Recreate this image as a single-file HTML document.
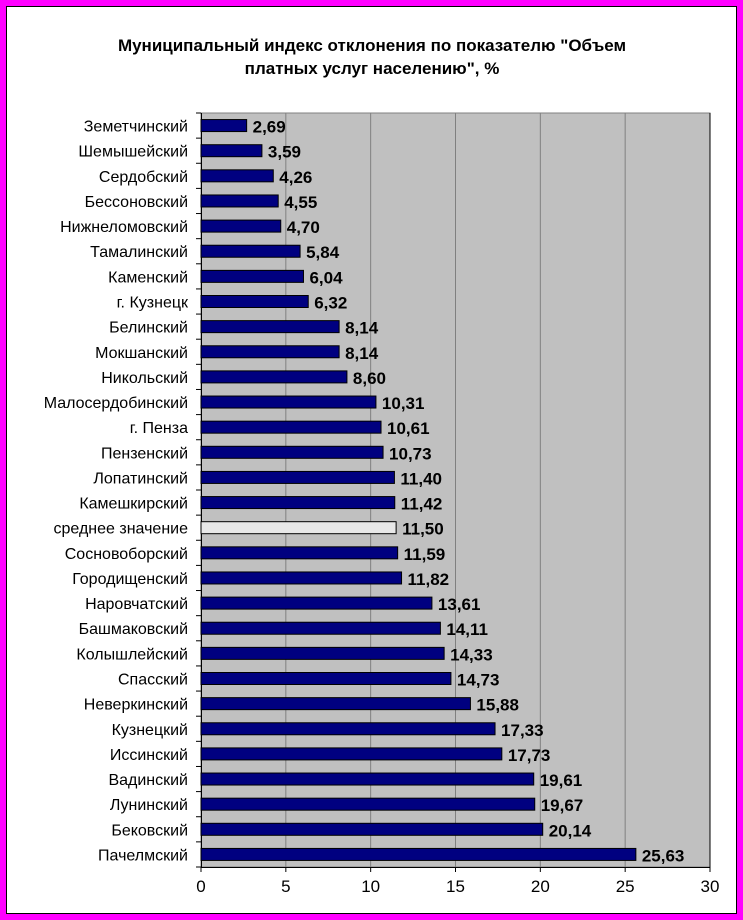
<!DOCTYPE html>
<html><head><meta charset="utf-8"><style>
html,body{margin:0;padding:0;background:#fff}
svg{display:block}
text{font-family:"Liberation Sans",Arial,sans-serif}
</style></head><body>
<svg id="chart" width="743" height="920">
<rect x="3" y="3" width="737" height="914" fill="#fff" stroke="#ff00ff" stroke-width="6"/>
<rect x="6.5" y="6.5" width="730" height="907" fill="none" stroke="#000" stroke-width="1"/>
<text x="372" y="51" text-anchor="middle" font-size="17" font-weight="bold">Муниципальный индекс отклонения по показателю "Объем</text>
<text x="372" y="74" text-anchor="middle" font-size="17" font-weight="bold">платных услуг населению", %</text>
<g id="plot"></g>
</svg>
<script>
const categories=["Земетчинский","Шемышейский","Сердобский","Бессоновский","Нижнеломовский","Тамалинский","Каменский","г. Кузнецк","Белинский","Мокшанский","Никольский","Малосердобинский","г. Пенза","Пензенский","Лопатинский","Камешкирский","среднее значение","Сосновоборский","Городищенский","Наровчатский","Башмаковский","Колышлейский","Спасский","Неверкинский","Кузнецкий","Иссинский","Вадинский","Лунинский","Бековский","Пачелмский"];
const values=[2.69,3.59,4.26,4.55,4.70,5.84,6.04,6.32,8.14,8.14,8.60,10.31,10.61,10.73,11.40,11.42,11.50,11.59,11.82,13.61,14.11,14.33,14.73,15.88,17.33,17.73,19.61,19.67,20.14,25.63];
const ticks=[0,5,10,15,20,25,30];
const L=201,R=710,T=113,B=867,xMax=30;
const x=v=>L+v/xMax*(R-L);
const band=(B-T)/categories.length;
const y=i=>T+i*band;
const NS="http://www.w3.org/2000/svg";
const g=document.getElementById('plot');
function mk(t,a){const e=document.createElementNS(NS,t);for(const k in a)e.setAttribute(k,a[k]);g.appendChild(e);return e;}
const bg=mk('rect',{x:L,y:T,width:R-L,height:B-T,fill:'#c0c0c0',stroke:'#808080'});


ticks.forEach(t=>{
 if(t>0){const gl=mk('line',{x1:x(t),x2:x(t),y1:T,y2:B,stroke:'#808080'});
 
 }
 mk('line',{x1:x(t),x2:x(t),y1:B,y2:B+5,stroke:'#000'});
 const tl=mk('text',{x:x(t),y:B+25,'text-anchor':'middle','font-size':17});
 tl.textContent=t;
 
 
});
mk('line',{x1:L,x2:R,y1:B+.5,y2:B+.5,stroke:'#000'});
mk('line',{x1:L+.5,x2:L+.5,y1:T,y2:B,stroke:'#000'});
mk('line',{x1:R,x2:R,y1:T,y2:B,stroke:'#000'});
categories.forEach((c,i)=>{
 mk('line',{x1:L-5,x2:L,y1:y(i),y2:y(i),stroke:'#000'});
 const cy=y(i)+band/2;
 const v=values[i];
 const isMean=c==="среднее значение";
 const bar=mk('rect',{x:L,y:cy-6,width:x(v)-L,height:12,fill:isMean?'#e8e8e8':'#000080',stroke:'#000','stroke-width':1});
 
 
 const lb=mk('text',{x:188,y:cy+6,'text-anchor':'end','font-size':16});
 lb.textContent=c;
 
 
 const vl=mk('text',{x:x(v)+6,y:cy+7,'font-size':17,'font-weight':'bold'});
 vl.textContent=v.toFixed(2).replace('.',',');
 
 
});
mk('line',{x1:L-5,x2:L,y1:B,y2:B,stroke:'#000'});
</script>
</body></html>
